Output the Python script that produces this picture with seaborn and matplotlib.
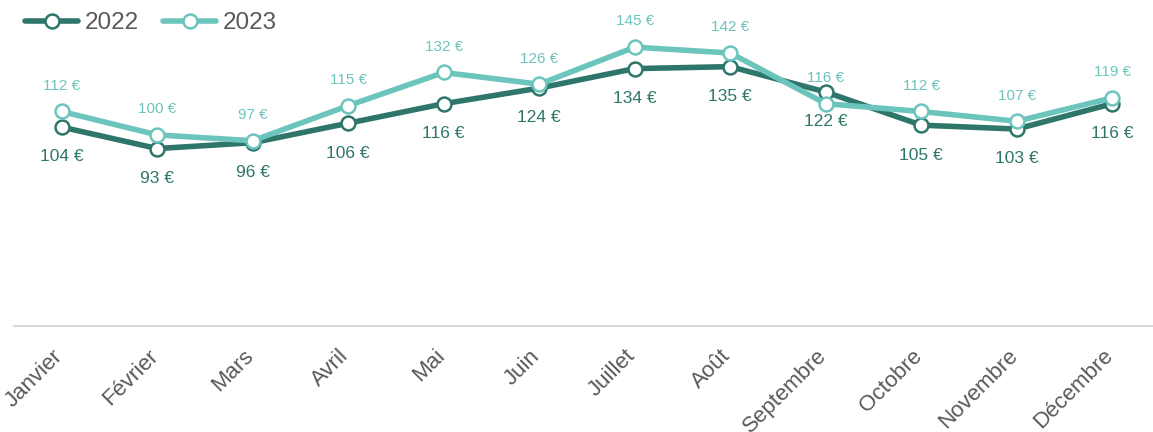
"""Prix moyen mensuel 2022 vs 2023 - line chart."""

import matplotlib

matplotlib.use("Agg")

import matplotlib.pyplot as plt
import matplotlib.transforms as mtransforms
import pandas as pd
import seaborn as sns

mois = ["Janvier", "Février", "Mars", "Avril", "Mai", "Juin", "Juillet",
        "Août", "Septembre", "Octobre", "Novembre", "Décembre"]
prix_2022 = [104, 93, 96, 106, 116, 124, 134, 135, 122, 105, 103, 116]
prix_2023 = [112, 100, 97, 115, 132, 126, 145, 142, 116, 112, 107, 119]
annees = ["2022", "2023"]

DARK = "#2e7669"
LIGHT = "#6cc5bc"
GREY = "#595959"

sns.set_theme(style="white")
plt.rcParams["font.family"] = ["Liberation Sans", "DejaVu Sans"]

df = pd.DataFrame({
    "mois": mois * 2,
    "prix": prix_2022 + prix_2023,
    "annee": [annees[0]] * len(mois) + [annees[1]] * len(mois),
})

fig = plt.figure(figsize=(11.53, 4.32), dpi=100)
ax = fig.add_axes([14 / 1153, 106 / 432, 1146 / 1153, 312 / 432])

colors = {"2022": DARK, "2023": LIGHT}
# 2022 drawn first, 2023 on top
for annee in annees:
    sub = df[df["annee"] == annee]
    sns.lineplot(
        data=sub, x="mois", y="prix", ax=ax, sort=False,
        color=colors[annee], linewidth=4, marker="o", markersize=10,
        markerfacecolor="white", markeredgecolor=colors[annee],
        markeredgewidth=1.8, label=annee,
    )

for i, v in enumerate(prix_2022):
    ax.annotate(f"{v} €", (i, v), xytext=(0, -21.5), textcoords="offset points",
                ha="center", va="center", fontsize=12.5, color=DARK)
for i, v in enumerate(prix_2023):
    ax.annotate(f"{v} €", (i, v), xytext=(0, 18.5), textcoords="offset points",
                ha="center", va="center", fontsize=11, color=LIGHT)

ax.set_xlim(-0.5, len(mois) - 0.5)
ax.set_ylim(2, 162)
ax.set_xlabel("")
ax.set_ylabel("")
ax.set_yticks([])
for side in ["top", "left", "right"]:
    ax.spines[side].set_visible(False)
ax.spines["bottom"].set_color("#d9d9d9")
ax.spines["bottom"].set_linewidth(1.5)
ax.tick_params(axis="x", length=0, pad=16, labelsize=16, labelcolor=GREY)
# nudge the rotated month labels right/down to sit like the reference
shift = mtransforms.ScaledTranslation(0.05, -0.12, fig.dpi_scale_trans)
for lbl in ax.get_xticklabels():
    lbl.set_rotation(45)
    lbl.set_ha("right")
    lbl.set_va("bottom")
    lbl.set_rotation_mode("anchor")
    lbl.set_transform(lbl.get_transform() + shift)

handles, labels = ax.get_legend_handles_labels()
if ax.get_legend() is not None:
    ax.get_legend().remove()
fig.legend(handles, labels, loc="center left", bbox_to_anchor=(25 / 1153, 1 - 23 / 432),
           ncol=2, frameon=False, fontsize=17.5, labelcolor=GREY, handlelength=2.2,
           handletextpad=0.25, columnspacing=1.0, borderpad=0, borderaxespad=0)

fig.savefig("out.png", dpi=100)
